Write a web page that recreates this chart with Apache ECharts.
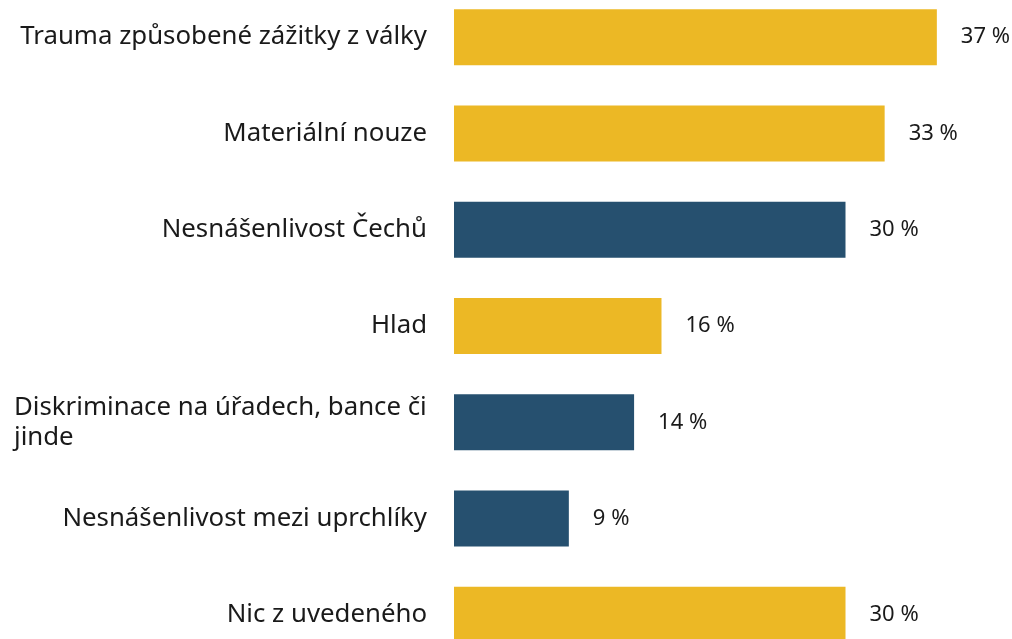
<!DOCTYPE html>
<html>
<head>
<meta charset="utf-8">
<script src="https://cdn.jsdelivr.net/npm/echarts@6/dist/echarts.min.js"></script>
<style>
  html, body { margin: 0; padding: 0; background: #fff; overflow: hidden; }
  body { width: 1012px; height: 639px; position: relative; }
  /* 画布比窗口高一些，上下各溢出一截 */
  #chart { position: absolute; left: 0; top: -11px; width: 1012px; height: 674px; }
</style>
</head>
<body>
<div id="chart"></div>
<script>
// 数据
var categories = [
  "Trauma způsobené zážitky z války",
  "Materiální nouze",
  "Nesnášenlivost Čechů",
  "Hlad",
  "Diskriminace na úřadech, bance či jinde",
  "Nesnášenlivost mezi uprchlíky",
  "Nic z uvedeného"
];
var values = [37.0, 33.0, 30.0, 15.9, 13.8, 8.8, 30.0];
var barColors = ["#ECB825", "#ECB825", "#26506F", "#ECB825", "#26506F", "#26506F", "#ECB825"];

var myChart = echarts.init(document.getElementById("chart"));

var option = {
  animation: false,
  grid: {
    left: 454,
    right: 36,
    top: 0,
    bottom: 0,
    containLabel: false
  },
  xAxis: {
    type: "value",
    min: 0,
    max: 40,
    show: false
  },
  yAxis: {
    type: "category",
    inverse: true,
    data: categories,
    axisLine: { show: false },
    axisTick: { show: false },
    splitLine: { show: false },
    axisLabel: {
      margin: 27,
      fontFamily: "Noto Sans",
      fontSize: 25.8,
      color: "#1a1a1a",
      formatter: function (val) {
        // 长标签换行，左对齐
        if (val.indexOf("Diskriminace") === 0) {
          return "{l|Diskriminace na úřadech, bance či}\n{l|jinde}";
        }
        return val;
      },
      rich: {
        l: {
          width: 413,
          align: "left",
          fontFamily: "Noto Sans",
          fontSize: 25.8,
          color: "#1a1a1a",
          lineHeight: 30
        }
      }
    }
  },
  series: [
    {
      type: "bar",
      barWidth: 56,
      data: values.map(function (v, i) {
        return { value: v, itemStyle: { color: barColors[i] } };
      }),
      label: {
        show: true,
        position: "right",
        distance: 24,
        fontFamily: "Noto Sans",
        fontSize: 22,
        color: "#1a1a1a",
        formatter: function (p) {
          return Math.round(p.value) + " %";
        }
      }
    }
  ]
};

myChart.setOption(option, true);
</script>
</body>
</html>
